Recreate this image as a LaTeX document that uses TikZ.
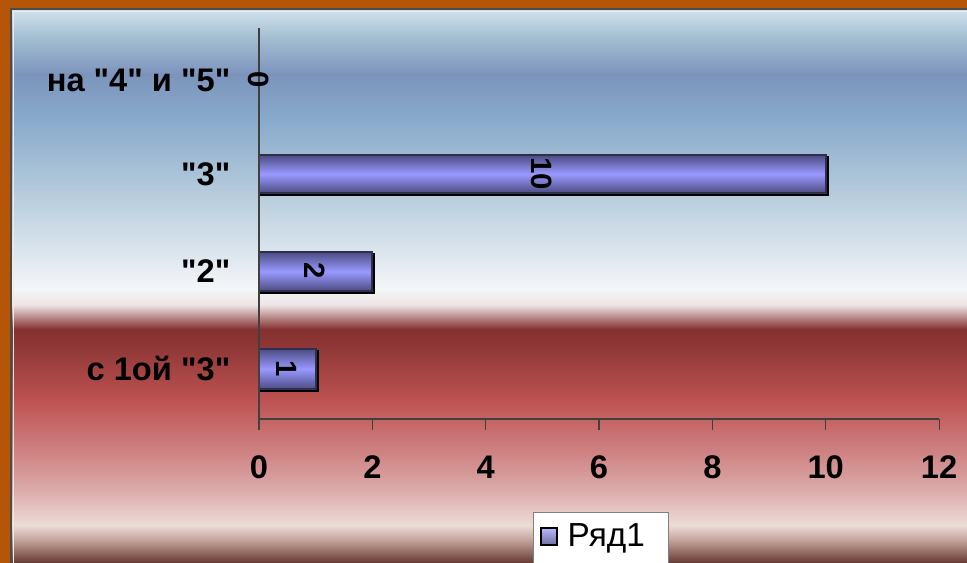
\documentclass[tikz,border=0pt]{standalone}
\usepackage{fontspec}
\setmainfont{Liberation Sans}
\usetikzlibrary{positioning}

\definecolor{frameorange}{HTML}{B45508}
\definecolor{bgtop}{HTML}{D2E2EC}
\definecolor{bgblueA}{HTML}{A2BCD2}
\definecolor{bgblueB}{HTML}{7C94BC}
\definecolor{bgblueC}{HTML}{88AACA}
\definecolor{bgblueD}{HTML}{BACEDE}
\definecolor{bgwhite}{HTML}{F4F6F8}
\definecolor{bgpale}{HTML}{EEE4E4}
\definecolor{bgredA}{HTML}{863030}
\definecolor{bgredB}{HTML}{8E3636}
\definecolor{bgredC}{HTML}{BE5252}
\definecolor{bgredD}{HTML}{CE8080}
\definecolor{bgredE}{HTML}{DCAAAA}
\definecolor{bglight}{HTML}{ECDCD6}
\definecolor{bgbrownA}{HTML}{C4A49C}
\definecolor{bgbottom}{HTML}{663A32}
\definecolor{bardark}{HTML}{4C4C84}
\definecolor{barlight}{HTML}{9999FF}
\definecolor{axisgray}{HTML}{404040}

\pgfdeclareverticalshading{chartbg}{100bp}{%
  color(0bp)=(bgbottom); color(25bp)=(bgbottom); color(27.1bp)=(bgbrownA);
  color(28.4bp)=(bglight); color(31.6bp)=(bgredE); color(35.2bp)=(bgredD);
  color(39.7bp)=(bgredC); color(44.7bp)=(bgredB); color(46.1bp)=(bgredA);
  color(48.3bp)=(bgpale); color(49.7bp)=(bgwhite); color(57.8bp)=(bgblueD);
  color(65.1bp)=(bgblueC); color(69.1bp)=(bgblueB); color(72.3bp)=(bgblueA);
  color(75bp)=(bgtop); color(100bp)=(bgtop)}

\newcommand\qt{\textquotedbl}

\begin{document}
\begin{tikzpicture}[
    x=0.75pt, y=-0.75pt,
    catlabel/.style={anchor=east, font=\fontsize{24.5}{24.5}\selectfont\bfseries},
    ticklabel/.style={font=\fontsize{24.5}{24.5}\selectfont\bfseries},
    vallabel/.style={rotate=-90, font=\fontsize{22}{22}\selectfont\bfseries},
    bar/.style={draw=bardark!60!black, line width=0.8pt, top color=bardark, bottom color=bardark, middle color=barlight},
    barshadow/.style={draw=black, line width=1pt},
    axisline/.style={draw=axisgray, line width=0.8pt},
  ]
  \useasboundingbox (0,0) rectangle (967,563);
  \fill[frameorange] (0,0) rectangle (967,563);
  \shade[shading=chartbg] (11,9) rectangle (967,563);
  \draw[gray!60!black, line width=1pt] (11,563) -- (11,9) -- (967,9);
  \draw[white!85!gray, line width=0.6pt] (13,563) -- (13,11) -- (967,11);

  % bars
  \draw[barshadow] (261,157) rectangle (828,195);
  \path[bar] (259,155) rectangle (826,193);
  \draw[barshadow] (261,254) rectangle (374,293);
  \path[bar] (259,252) rectangle (372,291);
  \draw[barshadow] (261,351) rectangle (318,391);
  \path[bar] (259,349) rectangle (316,389);

  % axes
  \coordinate (origin) at (259,419);
  \coordinate (ytop) at (259,28);
  \coordinate (xend) at (939,419);
  \draw[axisline] (ytop) -- (origin) -- (xend);
  \foreach \v [count=\i from 0] in {0,2,...,12} {
    \coordinate (t\i) at (259+56.67*\v,419);
    \draw[axisline] (t\i) -- ++(0,11);
    \node (tl\i) [ticklabel] at (259+56.67*\v,467) {\v};
  }

  % category labels
  \node (c45) [catlabel] at (235,80) {на \qt4\qt{} и \qt5\qt};
  \node (c3) [catlabel] at (235,174) {\qt3\qt};
  \node (c2) [catlabel] at (235,271) {\qt2\qt};
  \node (c1) [catlabel] at (235,369) {с 1ой \qt3\qt};

  % values
  \node (v45) [vallabel] at (259,80) {0};
  \node (v3) [vallabel] at (542,174) {10};
  \node (v2) [vallabel] at (315,271) {2};
  \node (v1) [vallabel] at (287,369) {1};

  % legend
  \draw[fill=white, draw=gray] (533,512) rectangle (668,566);
  \path[draw=black, line width=0.8pt, top color=barlight!70!white, bottom color=bardark!80!white] (541,528) rectangle (557,545);
  \node (leg) [anchor=west, font=\fontsize{25}{25}\selectfont] at (563,538) {Ряд1};
\end{tikzpicture}
\end{document}
